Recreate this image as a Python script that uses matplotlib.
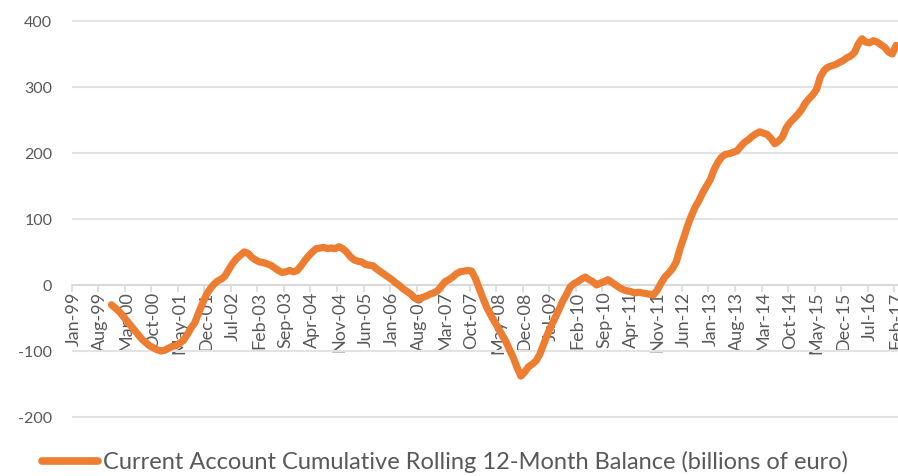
import matplotlib
matplotlib.use("Agg")
import matplotlib.pyplot as plt
import numpy as np

# ---------------- data ----------------
months = ["Jan", "Feb", "Mar", "Apr", "May", "Jun", "Jul", "Aug", "Sep", "Oct", "Nov", "Dec"]
categories = [f"{months[m]}-{(99 + y) % 100:02d}" for y in range(19) for m in range(12)][:218]  # Jan-99 .. Feb-17

start_label = "Nov-99"
balance = [
    -30, -35, -40, -47, -54, -61, -68, -75, -82, -87, -92, -95, -98, -100, -99, -96, -93, -92, -88, -84,
    -75, -65, -57, -42, -28, -15, -6, 1, 6, 9, 14, 24, 33, 40, 45, 50, 48, 42, 38, 35,
    34, 32, 30, 26, 22, 19, 20, 22, 20, 22, 29, 37, 44, 50, 55, 56, 57, 55, 56, 55,
    58, 55, 50, 43, 38, 36, 35, 31, 30, 29, 24, 20, 16, 12, 8, 3, -1, -6, -10, -14,
    -20, -22, -19, -17, -14, -12, -9, -2, 5, 8, 12, 17, 20, 21, 22, 21, 10, -5, -20, -34,
    -45, -55, -65, -75, -85, -98, -110, -125, -138, -132, -124, -120, -115, -105, -90, -75, -62, -50, -38, -25,
    -15, -3, 2, 5, 9, 12, 8, 5, 0, 3, 5, 8, 4, 0, -4, -7, -9, -10, -12, -11,
    -12, -13, -14, -15, -8, 3, 12, 18, 25, 35, 55, 72, 90, 105, 118, 128, 140, 150, 160, 175,
    186, 194, 198, 199, 201, 203, 210, 216, 220, 225, 229, 232, 230, 228, 222, 214, 218, 224, 238, 246,
    252, 258, 265, 275, 282, 288, 296, 315, 325, 330, 332, 334, 337, 340, 344, 347, 352, 365, 373, 368,
    367, 370, 368, 364, 360, 353, 350, 363,
]
series_label = "Current Account Cumulative Rolling 12-Month Balance (billions of euro)"
y_ticks = [-200, -100, 0, 100, 200, 300, 400]

# ---------------- plot ----------------
plt.rcParams["font.family"] = ["Lato", "DejaVu Sans"]
W, H = 898, 477
fig = plt.figure(figsize=(W / 100, H / 100), dpi=100)

ax_left, ax_top, ax_bottom = 71.7, 0, 430
ax = fig.add_axes([ax_left / W, 1 - ax_bottom / H, 1 - ax_left / W, (ax_bottom - ax_top) / H])

x_all = np.arange(len(categories))
i0 = categories.index(start_label)
x_data = x_all[i0:i0 + len(balance)]

orange = "#ED7D31"
ax.plot(x_data, balance, color=orange, lw=5.2, solid_capstyle="round", solid_joinstyle="round", zorder=3)

ax.set_xlim(-0.5, len(categories) - 0.5)
ax.set_ylim(-218.2, 433.3)

# gridlines
ax.set_yticks(y_ticks)
ax.set_yticklabels([str(v) for v in y_ticks], color="#595959", fontsize=11.5)
ax.tick_params(axis="y", length=0, pad=14)
ax.yaxis.grid(True, color="#E3E3E3", lw=1.5)
ax.set_axisbelow(True)

for s in ["top", "right", "left"]:
    ax.spines[s].set_visible(False)
ax.spines["bottom"].set_position(("data", 0))
ax.spines["bottom"].set_color("#D9D9D9")
ax.spines["bottom"].set_linewidth(1.2)

major = x_all[::7]
ax.set_xticks(major)
ax.set_xticklabels([categories[i] for i in major], rotation=90, color="#595959", fontsize=13,
                   ha="center", va="top")
ax.set_xticks(np.arange(-0.5, len(categories), 7), minor=True)
ax.tick_params(axis="x", which="major", length=0, pad=4)
ax.tick_params(axis="x", which="minor", length=5, color="#D9D9D9", width=1.2)

# legend
fig.add_artist(plt.Line2D([42 / W, 98 / W], [1 - 462 / H, 1 - 462 / H], color=orange, lw=5.5,
                          solid_capstyle="round"))
fig.text(103 / W, 1 - 462 / H, series_label, fontsize=17, color="#595959", va="center", ha="left")

fig.savefig("out.png", dpi=100)
